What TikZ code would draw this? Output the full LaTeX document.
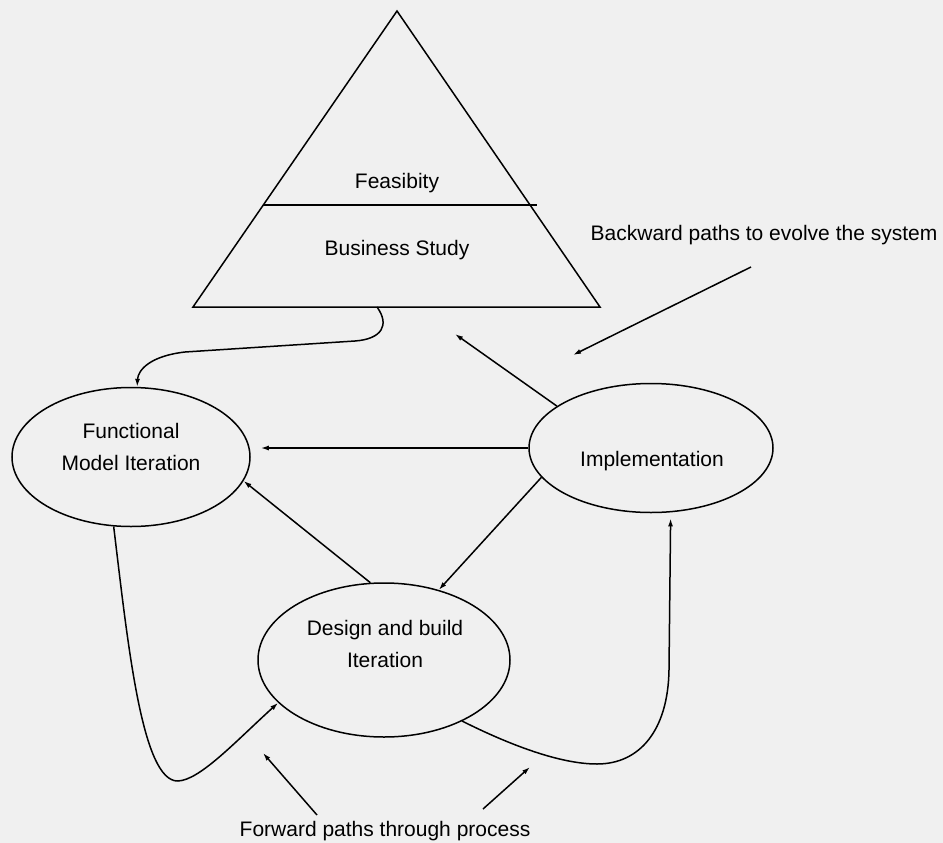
\documentclass[tikz,border=0pt]{standalone}
\usepackage{fontspec}
\setmainfont{Liberation Sans}
\usetikzlibrary{arrows.meta,calc,shapes.geometric}
\definecolor{bg}{RGB}{240,240,240}
\begin{document}
\begin{tikzpicture}[x=1pt,y=-1pt, line width=1.5pt,
  arr/.style={-{Latex[length=8pt,width=5pt]}},
  phase/.style={draw, ellipse, inner sep=0pt},
  lbl/.style={font=\fontsize{21}{32}\selectfont, align=center, inner sep=0pt}]
\fill[bg] (0,0) rectangle (943,843);
\useasboundingbox (0,0) rectangle (943,843);

% triangle
\coordinate (apex) at (397,11);
\coordinate (bl) at (193,307);
\coordinate (br) at (600,307);
\coordinate (dl) at (263,205);
\coordinate (dr) at (537,205);
\draw (apex) -- (bl) -- (br) -- cycle;
\draw (dl) -- (dr);
\node[lbl, anchor=base] (feas) at (397,188) {Feasibity};
\node[lbl, anchor=base] (bus) at (397,255) {Business Study};

% ellipses
\node[phase, minimum width=238pt, minimum height=139pt] (fmi) at (131,457) {};
\node[phase, minimum width=244pt, minimum height=129pt] (impl) at (651,448) {};
\node[phase, minimum width=252pt, minimum height=154pt] (dbi) at (384,660) {};
\node[lbl] (fmit) at (131,446.5) {Functional\\Model Iteration};
\node[lbl, anchor=base] (implt) at (652,466) {Implementation};
\node[lbl] (dbit) at (385,644) {Design and build\\Iteration};

% free labels
\node[lbl, anchor=base] (back) at (764,240) {Backward paths to evolve the system};
\node[lbl, anchor=base] (fwd) at (385,836) {Forward paths through process};

% connectors
\coordinate (tb) at (377,307);
\draw[arr] (tb) .. controls (390,325) and (382,339) .. (355,341)
  -- (185,352) .. controls (150,356) and (138,370) .. (fmi.85);
\draw[arr, shorten >=10pt] (impl.west) -- (impl.west -| fmi.east);
\coordinate (tr) at (455,334);
\draw[arr] (impl.156) -- (tr);
\coordinate (bs) at (751,267);
\coordinate (bt) at (573,355);
\draw[arr] (bs) -- (bt);
\draw[arr] (impl.195) -- (dbi.52);
\draw[arr] (dbi.100) -- (fmi.348);
\draw[arr] (fmi.256) .. controls (128,645) and (142,782) .. (178,781)
  .. controls (200,780) and (235,742) .. (dbi.202);
\draw[arr, shorten >=6pt] (dbi.322) .. controls (510,745) and (560,764) .. (597,764)
  .. controls (640,764) and (668,730) .. (669,670) -- (impl.287);
\coordinate (f1s) at (317,815);
\coordinate (f1t) at (263,753);
\coordinate (f2s) at (483,809);
\coordinate (f2t) at (530,767);
\draw[arr] (f1s) -- (f1t);
\draw[arr] (f2s) -- (f2t);
\end{tikzpicture}
\end{document}
